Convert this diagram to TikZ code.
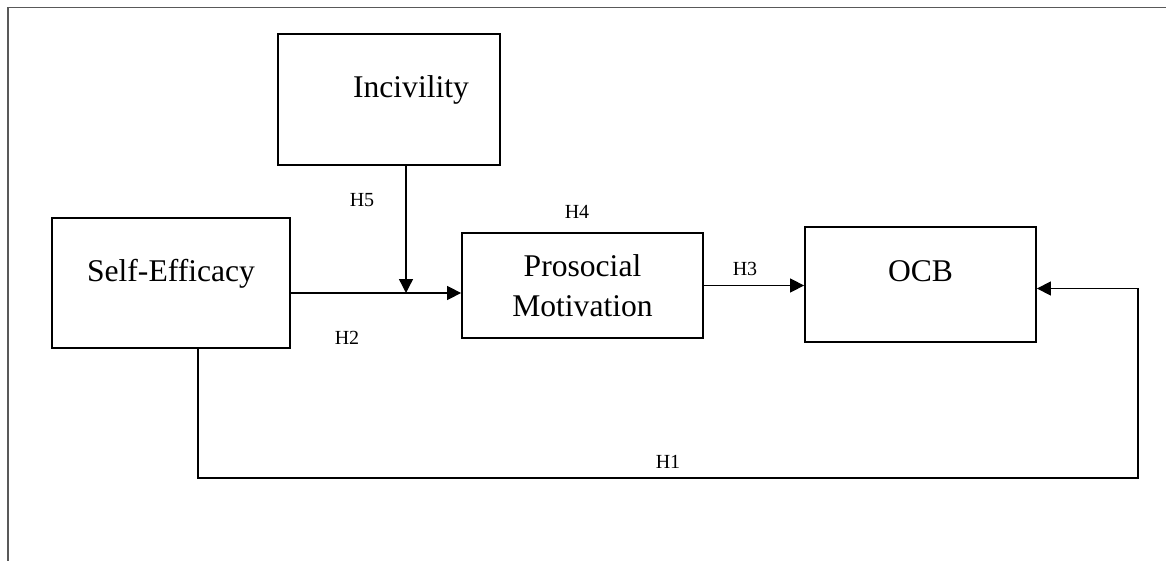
\documentclass[tikz,border=0pt]{standalone}
\usepackage{fontspec}
\setmainfont{Liberation Serif}
\usetikzlibrary{positioning, arrows.meta}

\tikzset{
  box/.style={draw, line width=0.9pt, align=center, inner sep=0pt,
    font=\fontsize{15.8}{20}\selectfont},
  oneline/.style={text depth=13pt},
  link/.style={line width=0.7pt},
  arr/.style={link, -{Triangle[length=7pt, width=7pt]}},
  hyp/.style={font=\fontsize{10}{12}\selectfont, inner sep=0pt}
}

\begin{document}
\begin{tikzpicture}[x=0.5pt, y=-0.5pt]
\useasboundingbox (0,0) rectangle (1166,561);
\draw[gray!70!black, line width=0.6pt](8,561) -- (8,7.5) -- (1166,7.5);

\node[box, oneline, minimum width=111pt, minimum height=65.5pt] (inc) at (389,99.5) {\hspace*{22pt}Incivility};
\node[box, oneline, minimum width=119pt, minimum height=65pt] (self) at (171,283) {Self-Efficacy};
\node[box, minimum width=120.5pt, minimum height=52.5pt] (pro) at (582.5,285.5) {Prosocial\\Motivation};
\node[box, oneline, minimum width=115.5pt, minimum height=57.5pt] (ocb) at (920.5,284.5) {OCB};

\coordinate (mod) at (406,293);
\coordinate (h1a) at (198,478);
\coordinate (h1b) at (1138,478);

\draw[arr](self.east |- mod) -- (pro.west |- mod);
\draw[arr](inc.south -| mod) -- (mod);
\draw[arr](pro.east) -- (ocb.west |- pro.east);
\draw[arr](self.south -| h1a) -- (h1a) -- (h1b) |- ([yshift=-2pt]ocb.east);

\node[hyp] (h5) at (362,200) {H5};
\node[hyp] (h4) at (577,212) {H4};
\node[hyp] (h2) at (347,338) {H2};
\node[hyp] (h3) at (745,269) {H3};
\node[hyp] (h1) at (668,462) {H1};
\end{tikzpicture}
\end{document}
